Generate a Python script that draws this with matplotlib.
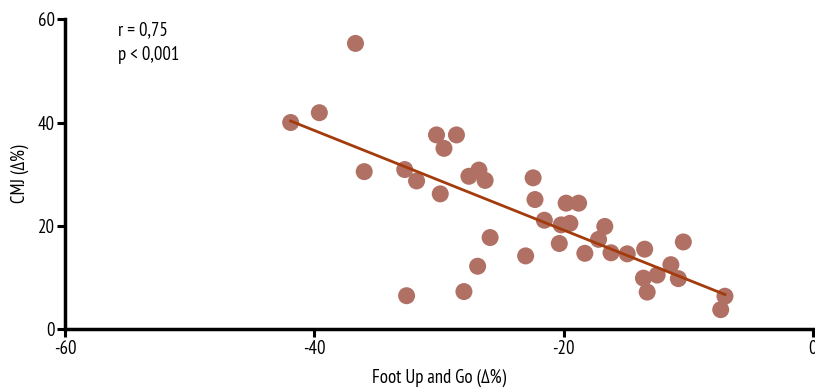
import numpy as np
import matplotlib
matplotlib.use("Agg")
import matplotlib.pyplot as plt
from matplotlib import font_manager as fm

# Data
foot_up_go = [-41.9, -39.6, -36.7, -36.0, -32.75, -31.8, -29.9, -30.2, -28.6, -29.6,
              -27.6, -26.8, -26.3, -25.9, -26.9, -28.0, -32.6, -23.05, -22.45, -22.3,
              -21.55, -20.35, -20.2, -19.8, -18.8, -19.5, -18.3, -16.7, -17.2, -16.2,
              -14.9, -13.5, -13.6, -13.3, -12.5, -11.4, -10.8, -10.4, -7.06, -7.4]
cmj = [40.0, 41.9, 55.3, 30.5, 30.9, 28.7, 26.2, 37.6, 37.6, 35.0,
       29.6, 30.8, 28.8, 17.75, 12.2, 7.3, 6.5, 14.2, 29.3, 25.1,
       21.1, 16.6, 20.2, 24.4, 24.4, 20.5, 14.7, 19.9, 17.4, 14.8,
       14.6, 15.5, 9.9, 7.2, 10.5, 12.5, 9.8, 16.9, 6.4, 3.8]
x_ticks = [-60, -40, -20, 0]
y_ticks = [0, 20, 40, 60]
stats_text = ["r = 0,75", "p < 0,001"]

names = {f.name for f in fm.fontManager.ttflist}
if 'PT Sans Narrow' in names:
    plt.rcParams['font.family'] = ['PT Sans Narrow', 'DejaVu Sans']
else:
    plt.rcParams['font.family'] = ['DejaVu Sans']
plt.rcParams['font.stretch'] = 'condensed'

FS = 13.5

x = np.array(foot_up_go)
y = np.array(cmj)
slope, intercept = np.polyfit(x, y, 1)
xl = np.array([x.min(), x.max()])

fig = plt.figure(figsize=(8.15, 3.9), dpi=100)
ax = fig.add_axes([0.0798, 0.1556, 0.9177, 0.7954])

ax.scatter(x, y, s=150, color='#b07064', edgecolors='none', zorder=2)
ax.plot(xl, slope * xl + intercept, color='#a33b0c', lw=2, zorder=3)

ax.set_xlim(-60, 0)
ax.set_ylim(0, 60)
ax.set_xticks(x_ticks)
ax.set_yticks(y_ticks)
ax.set_xticklabels([str(t) for t in x_ticks])
ax.set_yticklabels([str(t) for t in y_ticks])

for s in ['top', 'right']:
    ax.spines[s].set_visible(False)
for s in ['left', 'bottom']:
    ax.spines[s].set_linewidth(2.5)
    ax.spines[s].set_clip_on(False)
ax.tick_params(direction='out', length=6, width=2.2, labelsize=FS, pad=1.5)

ax.set_xlabel("Foot Up and Go (Δ%)", fontsize=FS, labelpad=8)
ax.set_ylabel("CMJ (Δ%)", fontsize=FS, labelpad=6)

ax.text(-55.75, 57.9, stats_text[0], fontsize=FS, va='center', ha='left')
ax.text(-55.75, 53.05, stats_text[1], fontsize=FS, va='center', ha='left')

fig.savefig("out.png", dpi=100)
